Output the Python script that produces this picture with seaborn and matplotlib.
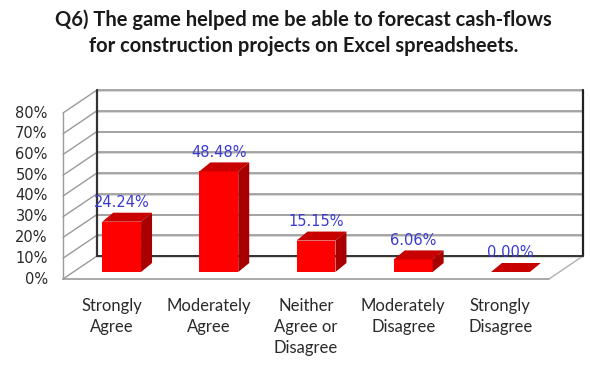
import matplotlib
matplotlib.use("Agg")
import matplotlib.pyplot as plt
import seaborn as sns
import numpy as np
import pandas as pd
from matplotlib.patches import Polygon
from matplotlib.lines import Line2D

# Survey responses
categories = ["Strongly\nAgree", "Moderately\nAgree", "Neither\nAgree or\nDisagree",
              "Moderately\nDisagree", "Strongly\nDisagree"]
shares = [0.2424, 0.4848, 0.1515, 0.0606, 0.0000]
value_labels = ["24.24%", "48.48%", "15.15%", "6.06%", "0.00%"]
y_ticks = [0.0, 0.1, 0.2, 0.3, 0.4, 0.5, 0.6, 0.7, 0.8]
y_tick_labels = ["0%", "10%", "20%", "30%", "40%", "50%", "60%", "70%", "80%"]
title = ("Q6) The game helped me be able to forecast cash-flows\n"
         "for construction projects on Excel spreadsheets.")

df = pd.DataFrame({"category": categories, "share": shares})

sns.set_theme(style="white")
plt.rcParams["font.family"] = ["DejaVu Sans"]

W, H, DPI = 590, 368, 100
fig = plt.figure(figsize=(W / DPI, H / DPI), dpi=DPI)
# front plane of the 3-D box (floor front edge at the bottom)
left_px, right_px, bottom_px, top_px = 63, 549, 279, 113
ax = fig.add_axes([left_px / W, 1 - bottom_px / H,
                   (right_px - left_px) / W, (bottom_px - top_px) / H])
ax.set_xlim(-0.5, 4.5)
ax.set_ylim(0, 0.8)
ax.axis("off")

# pixel -> data-unit conversion for the oblique depth offsets
px_x = (right_px - left_px) / 5.0
px_y = (bottom_px - top_px) / 0.8
def depth(dx_px, dy_px):
    return dx_px / px_x, dy_px / px_y

wall_dx, wall_dy = depth(34, 23)       # back wall relative to front plane
bar_dx, bar_dy = depth(10, 7)          # bar front faces relative to front plane
bdx, bdy = depth(11, 9)                # bar depth

grid_c = "#9a9a9a"
grid_hi = "#d0d0d0"
x0, x1 = -0.5, 4.5
kw = dict(clip_on=False, zorder=1)

# back wall gridlines and left side-wall diagonals
for t in y_ticks:
    ax.add_line(Line2D([x0 + wall_dx, x1 + wall_dx], [t + wall_dy - 0.004] * 2,
                       color=grid_hi, lw=1.2, **kw))
    ax.add_line(Line2D([x0 + wall_dx, x1 + wall_dx], [t + wall_dy] * 2,
                       color=grid_c, lw=1.2, **kw))
    ax.add_line(Line2D([x0, x0 + wall_dx], [t, t + wall_dy],
                       color=grid_c, lw=1.0, **kw))
# side wall front edge
ax.add_line(Line2D([x0, x0], [0, 0.8], color=grid_c, lw=1.0, **kw))
# floor edges
ax.add_line(Line2D([x0, x1], [0, 0], color=grid_c, lw=1.2, **kw))
ax.add_line(Line2D([x1, x1 + wall_dx], [0, wall_dy], color="#b0b0b0", lw=1.0, **kw))
# back wall corners and base
ax.add_line(Line2D([x0 + wall_dx] * 2, [wall_dy, 0.8 + wall_dy], color="#333333", lw=1.6, **kw))
ax.add_line(Line2D([x1 + wall_dx] * 2, [wall_dy, 0.8 + wall_dy], color="#222222", lw=1.6, **kw))
ax.add_line(Line2D([x0 + wall_dx, x1 + wall_dx], [wall_dy] * 2, color="#333333", lw=1.4, **kw))

# bar front faces
sns.barplot(data=df, x="category", y="share", color="#ff0000", saturation=1,
            width=0.4, ax=ax, zorder=3)
ax.set_xlim(-0.5, 4.5)
ax.set_ylim(0, 0.8)

for patch, lab in zip(list(ax.patches), value_labels):
    patch.set_x(patch.get_x() + bar_dx)
    patch.set_y(bar_dy)
    patch.set_clip_on(False)
    patch.set_edgecolor("none")
    bx0 = patch.get_x()
    bx1 = bx0 + patch.get_width()
    yb = patch.get_y()
    yt = yb + patch.get_height()
    # top face
    ax.add_patch(Polygon([(bx0, yt), (bx1, yt), (bx1 + bdx, yt + bdy), (bx0 + bdx, yt + bdy)],
                         closed=True, facecolor="#c80000", edgecolor="none",
                         clip_on=False, zorder=4))
    # side face
    ax.add_patch(Polygon([(bx1, yb), (bx1, yt), (bx1 + bdx, yt + bdy), (bx1 + bdx, yb + bdy)],
                         closed=True, facecolor="#a80000", edgecolor="none",
                         clip_on=False, zorder=4))
    ax.annotate(lab, xy=((bx0 + bx1) / 2, yt), xytext=(0, 10.5),
                textcoords="offset points", ha="center", va="baseline",
                color="#3a3ad0", fontsize=10.5, zorder=5, annotation_clip=False)

# y tick labels along the front edge of the side wall
for t, lab in zip(y_ticks, y_tick_labels):
    ax.annotate(lab, xy=(x0, t), xytext=(-11, 0), textcoords="offset points",
                ha="right", va="center", color="#2a2a2a", fontsize=10.5,
                annotation_clip=False)

# category labels below the floor
for i, lab in enumerate(categories):
    ax.annotate(lab, xy=(i, 0), xytext=(0, -14), textcoords="offset points",
                ha="center", va="top", color="#2a2a2a", fontsize=12,
                family=["Lato", "DejaVu Sans"], linespacing=1.35,
                annotation_clip=False)

fig.text(0.515, 0.975, title, ha="center", va="top", fontsize=14.5,
         fontweight="bold", family=["Lato", "DejaVu Sans"], color="#1a1a1a",
         linespacing=1.4)

fig.savefig("out.png", dpi=DPI, facecolor="white")
